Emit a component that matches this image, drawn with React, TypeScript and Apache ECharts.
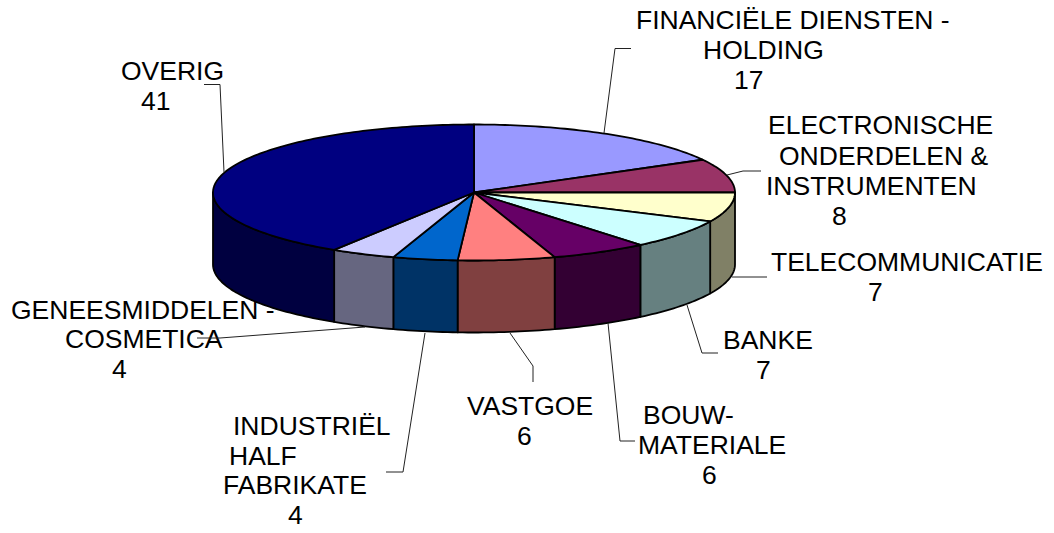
import React, { useEffect, useRef } from "react";
import * as echarts from "echarts";

const names = [
  "FINANCIËLE DIENSTEN - HOLDING",
  "ELECTRONISCHE ONDERDELEN & INSTRUMENTEN",
  "TELECOMMUNICATIE",
  "BANKE",
  "BOUW-MATERIALE",
  "VASTGOE",
  "INDUSTRIËL HALF FABRIKATE",
  "GENEESMIDDELEN - COSMETICA",
  "OVERIG",
];
const values = [17, 8, 7, 7, 6, 6, 4, 4, 41];
const topColors = ["#9999FF", "#993366", "#FFFFCC", "#CCFFFF", "#660066", "#FF8080", "#0066CC", "#CCCCFF", "#000080"];
const sideColors = ["#4D4D80", "#4D1A33", "#808066", "#668080", "#330033", "#804040", "#003366", "#666680", "#000040"];

// label text, line by line, with its x and baseline y
const labelLines: [string, number, number][] = [
  ["FINANCIËLE DIENSTEN -", 636, 30],
  ["HOLDING", 703, 60],
  ["17", 734, 90],
  ["ELECTRONISCHE", 768, 135],
  ["ONDERDELEN &", 779, 166],
  ["INSTRUMENTEN", 766, 196],
  ["8", 832, 226],
  ["TELECOMMUNICATIE", 771, 272],
  ["7", 868, 302],
  ["BANKE", 723, 350],
  ["7", 756, 380],
  ["BOUW-", 643, 425],
  ["MATERIALE", 638, 455],
  ["6", 702, 485],
  ["VASTGOE", 467, 416],
  ["6", 517, 446],
  ["INDUSTRIËL", 233, 436],
  ["HALF", 229, 466],
  ["FABRIKATE", 223, 495],
  ["4", 288, 525],
  ["GENEESMIDDELEN -", 11, 320],
  ["COSMETICA", 65, 349],
  ["4", 112, 379],
  ["OVERIG", 121, 81],
  ["41", 141, 111],
];

const leaders: number[][][] = [
  [[604, 133], [615, 48.5], [631, 48.5]],
  [[727, 175], [743, 171], [761, 171]],
  [[732, 277], [767, 277]],
  [[687, 305], [702, 353], [718, 353]],
  [[608, 323], [620, 441], [635, 441]],
  [[510, 333], [533, 366], [533, 382]],
  [[425, 333], [403, 472], [386, 472]],
  [[365, 327], [220, 338], [197, 338]],
  [[224, 172], [220, 84.5], [204, 84.5]],
];

const FONT_SIZE = 26.5;
const CX = 474;
const CY = 192.5;
const RX = 261;
const RY = 68;
const DEPTH = 72;
const total = values.reduce((a, b) => a + b, 0);

function rim(a: number, dy = 0): number[] {
  return [CX + RX * Math.sin(a), CY + dy - RY * Math.cos(a)];
}
function arc(a0: number, a1: number, dy = 0): number[][] {
  const n = Math.max(2, Math.ceil(Math.abs(a1 - a0) / 0.02));
  const pts: number[][] = [];
  for (let i = 0; i <= n; i++) pts.push(rim(a0 + ((a1 - a0) * i) / n, dy));
  return pts;
}

function renderSlice(params: any, api: any) {
  const i = params.dataIndex;
  const before = values.slice(0, i).reduce((a, b) => a + b, 0);
  const a0 = (before / total) * Math.PI * 2;
  const a1 = ((before + api.value(0)) / total) * Math.PI * 2;
  const children: any[] = [];
  const s0 = Math.max(a0, Math.PI / 2);
  const s1 = Math.min(a1, (Math.PI * 3) / 2);
  if (s1 > s0) {
    children.push({
      type: "polygon",
      shape: { points: [...arc(s0, s1), ...arc(s1, s0, DEPTH)] },
      style: { fill: sideColors[i], stroke: "#000", lineWidth: 1.8, lineJoin: "round" },
    });
  }
  children.push({
    type: "polygon",
    shape: { points: [[CX, CY], ...arc(a0, a1)] },
    style: { fill: topColors[i], stroke: "#000", lineWidth: 1.8, lineJoin: "round" },
  });
  return { type: "group", children };
}

export default function App() {
  const ref = useRef<HTMLDivElement>(null);
  useEffect(() => {
    const chart = echarts.init(ref.current!, null, { renderer: "svg" });
    chart.setOption({
      animation: false,
      backgroundColor: "#fff",
      series: [
        {
          type: "custom",
          coordinateSystem: "none",
          renderItem: renderSlice,
          data: values.map((v, i) => ({ name: names[i], value: [v] })),
          silent: true,
          z: 2,
        },
      ],
      graphic: {
        elements: [
          ...labelLines.map(([t, x, y]) => ({
            type: "text",
            x,
            y: y - FONT_SIZE * 0.36,
            z: 3,
            silent: true,
            style: {
              text: t,
              fill: "#000",
              font: `${FONT_SIZE}px "Liberation Sans", Arial, sans-serif`,
              textAlign: "left",
              textVerticalAlign: "middle",
            },
          })),
          ...leaders.map((pts) => ({
            type: "polyline",
            z: 4,
            silent: true,
            shape: { points: pts },
            style: { stroke: "#222", lineWidth: 1, fill: "none" },
          })),
        ],
      },
    });
    return () => chart.dispose();
  }, []);
  return <div ref={ref} style={{ position: "fixed", left: 0, top: 0, width: 1054, height: 533 }} />;
}
